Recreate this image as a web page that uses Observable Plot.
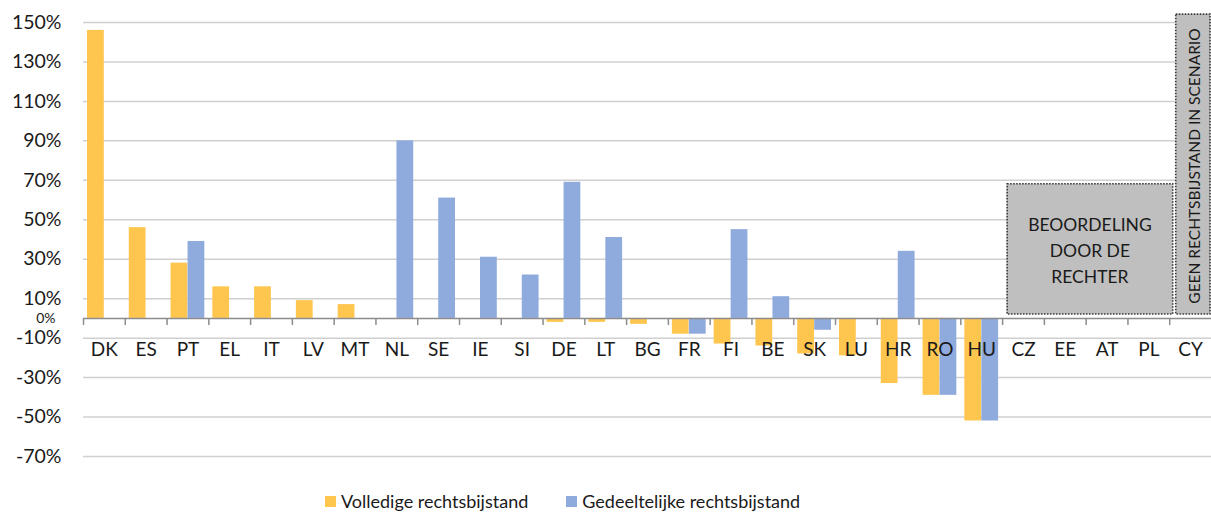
<!DOCTYPE html>
<html>
<head>
<meta charset="utf-8">
<script src="https://cdn.jsdelivr.net/npm/d3@7"></script>
<script src="https://cdn.jsdelivr.net/npm/@observablehq/plot@0.6"></script>
<style>
  html, body { margin: 0; padding: 0; background: #fff; }
  body { width: 1211px; height: 512px; overflow: hidden; font-family: Lato, "Open Sans", sans-serif; }
  #legend { height: 22px; padding-top: 12px; display: flex; align-items: center; margin-left: 325px; font-size: 18px; color: #1a1a1a; }
  #legend .sw { width: 11px; height: 11px; display: inline-block; margin-right: 5px; }
  #legend .item { display: flex; align-items: center; margin-right: 38px; }
</style>
</head>
<body>
<div id="chart"></div>
<div id="legend"></div>
<script>
// ---- data ----
const categories = ["DK","ES","PT","EL","IT","LV","MT","NL","SE","IE","SI","DE","LT","BG","FR","FI","BE","SK","LU","HR","RO","HU","CZ","EE","AT","PL","CY"];
const volledige  = [146, 46, 28, 16, 16, 9, 7, null, null, null, null, -2, -2, -3, -8, -13, -14, -18, -19, -33, -39, -52, null, null, null, null, null];
const gedeeltelijk = [null, null, 39, null, null, null, null, 90, 61, 31, 22, 69, 41, null, -8, 45, 11, -6, null, 34, -39, -52, null, null, null, null, null];
const seriesNames = ["Volledige rechtsbijstand", "Gedeeltelijke rechtsbijstand"];
const yTicks = [150, 130, 110, 90, 70, 50, 30, 10, -10, -30, -50, -70];
const boxLabels = [["BEOORDELING", "DOOR DE", "RECHTER"], ["GEEN RECHTSBIJSTAND IN SCENARIO"]];
const boxFrom = ["CZ", "CY"];
const boxTo = ["PL", "CY"];
const boxTop = [68, 154];
const boxBottom = [2, 2];

// ---- styles ----
const YELLOW = "#FFC64F";
const BLUE = "#8FAADC";
const W = 1211, H = 478, ML = 83, MR = 0, MT = 22, MB = 22;
const bw = (W - ML - MR) / categories.length;

const rows = categories.map((c, i) => ({cat: c, full: volledige[i], part: gedeeltelijk[i]}));

function boxesMark(index, scales) {
  const x = scales.x, y = scales.y;
  const band = x.bandwidth ? x.bandwidth() : bw;
  const g = d3.create("svg:g").attr("font-family", "Lato, sans-serif");
  boxLabels.forEach((lines, i) => {
    const vertical = boxFrom[i] === boxTo[i];
    const x0 = x(boxFrom[i]) + (vertical ? 6.5 : 5);
    const x1 = x(boxTo[i]) + band + (vertical ? -1 : 3.5);
    const y0 = y(boxTop[i]), y1 = y(boxBottom[i]);
    g.append("rect").attr("x", x0).attr("y", y0).attr("width", x1 - x0).attr("height", y1 - y0)
      .attr("fill", "#BFBFBF").attr("stroke", "#3a3a3a").attr("stroke-width", 1.6)
      .attr("stroke-dasharray", "1.6 1.4");
    const cx = (x0 + x1) / 2, cy = (y0 + y1) / 2;
    if (vertical) {
      g.append("text").attr("transform", `translate(${cx + 1},${cy + 2}) rotate(-90)`)
        .attr("text-anchor", "middle").attr("dominant-baseline", "central")
        .attr("font-size", 15.5).attr("fill", "#1a1a1a").text(lines[0]);
    } else {
      const lh = 26;
      lines.forEach((t, k) => {
        g.append("text").attr("x", cx).attr("y", cy + 2 + (k - (lines.length - 1) / 2) * lh)
          .attr("text-anchor", "middle").attr("dominant-baseline", "central")
          .attr("font-size", 17.5).attr("fill", "#1a1a1a").text(t);
      });
    }
  });
  return g.node();
}

const chart = Plot.plot({
  width: W, height: H,
  marginLeft: ML, marginRight: MR, marginTop: MT, marginBottom: MB,
  style: {fontFamily: "Lato, sans-serif", color: "#1a1a1a", background: "#fff", overflow: "visible"},
  x: {domain: categories, padding: 0, round: false, axis: null},
  y: {domain: [-70, 150], axis: null},
  marks: [
    Plot.ruleY(yTicks, {stroke: "#d0d0d0", strokeWidth: 1.5}),
    Plot.axisY({ticks: yTicks, tickFormat: d => d + "%", tickSize: 0, tickPadding: 22, fontSize: 19.5}),
    Plot.axisY({ticks: [0], tickFormat: d => d + "%", tickSize: 0, tickPadding: 28, fontSize: 14, dy: 0}),
    Plot.barY(rows, {x: "cat", y: "full", fill: YELLOW, insetLeft: 4, insetRight: 21}),
    Plot.barY(rows, {x: "cat", y: "part", fill: BLUE, insetLeft: 21, insetRight: 4}),
    Plot.ruleY([0], {stroke: "#8c8c8c", strokeWidth: 1.5}),
    Plot.ruleX(categories, {x: d => d, y1: 0, y2: -3.6, dx: -bw / 2, stroke: "#8c8c8c", strokeWidth: 1.5}),
    Plot.text(categories, {x: d => d, y: 0, dy: 31, text: d => d, fontSize: 19, fill: "#1a1a1a", lineAnchor: "middle"}),
    boxesMark
  ]
});
document.getElementById("chart").appendChild(chart);

const legend = document.getElementById("legend");
[YELLOW, BLUE].forEach((c, i) => {
  const item = document.createElement("span");
  item.className = "item";
  item.innerHTML = `<span class="sw" style="background:${c}"></span><span>${seriesNames[i]}</span>`;
  legend.appendChild(item);
});
</script>
</body>
</html>
